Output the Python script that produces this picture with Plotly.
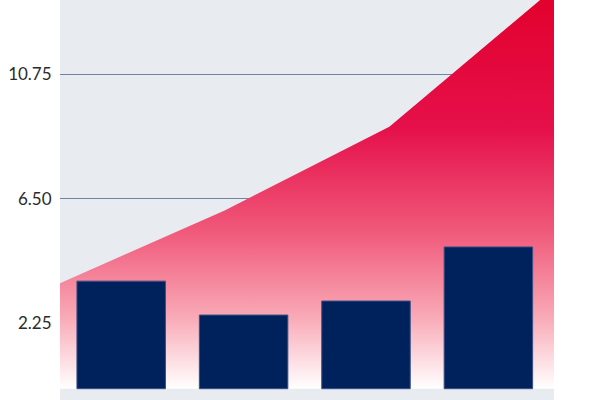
import plotly.graph_objs as go

# categories and values
categories = ["Q1", "Q2", "Q3", "Q4"]
bar_values = [3.68, 2.52, 3.00, 4.85]
area_values = [3.61, 6.10, 8.96, 13.70]
y_ticks = [2.25, 6.50, 10.75]

navy = "#00225c"
grid_color = "#7383a6"
plot_bg = "#e8ebf0"

# area runs edge to edge on the base x axis
trace_area = go.Scatter(
    x=list(range(len(area_values))),
    y=area_values,
    mode="lines",
    line=dict(width=0, color="#e2002b"),
    fill="tozeroy",
    fillgradient=dict(
        type="vertical",
        start=0,
        stop=max(area_values),
        colorscale=[[0, "#ffffff"], [0.18, "#f9a9b6"], [0.39, "#f05a7b"],
                    [0.65, "#e5104a"], [1, "#e2002b"]],
    ),
    hoverinfo="skip",
    showlegend=False,
)

# bars sit on the overlaying category axis so they draw on top
trace_bars = go.Bar(
    x=categories,
    y=bar_values,
    xaxis="x2",
    width=0.723,
    marker=dict(color=navy, line=dict(color="#3b4f86", width=1)),
    showlegend=False,
)

layout = go.Layout(
    width=600,
    height=400,
    margin=dict(l=60, r=46, t=0, b=0),
    paper_bgcolor="white",
    plot_bgcolor=plot_bg,
    template="none",
    font=dict(family="Lato, Open Sans, sans-serif", size=17, color="#2b2b2b"),
    xaxis=dict(
        range=[0, 3],
        visible=False,
        showgrid=False,
        zeroline=False,
    ),
    xaxis2=dict(
        type="category",
        overlaying="x",
        range=[-0.5, 3.536],
        showgrid=False,
        zeroline=False,
        showticklabels=False,
        showline=False,
        automargin=False,
    ),
    yaxis=dict(
        range=[-0.387, 13.30],
        tickvals=y_ticks,
        tickformat=".2f",
        showgrid=True,
        gridcolor=grid_color,
        gridwidth=1,
        zeroline=False,
        showline=False,
        ticks="outside",
        ticklen=4,
        tickcolor="rgba(0,0,0,0)",
        automargin=False,
    ),
)

fig = go.Figure(data=[trace_area, trace_bars], layout=layout)
# page has a default body margin; drop it so the chart fills the window
fig.write_html(
    "out.html",
    config={"displayModeBar": False},
    post_script="document.body.style.margin='0';document.body.style.overflow='hidden';",
)
